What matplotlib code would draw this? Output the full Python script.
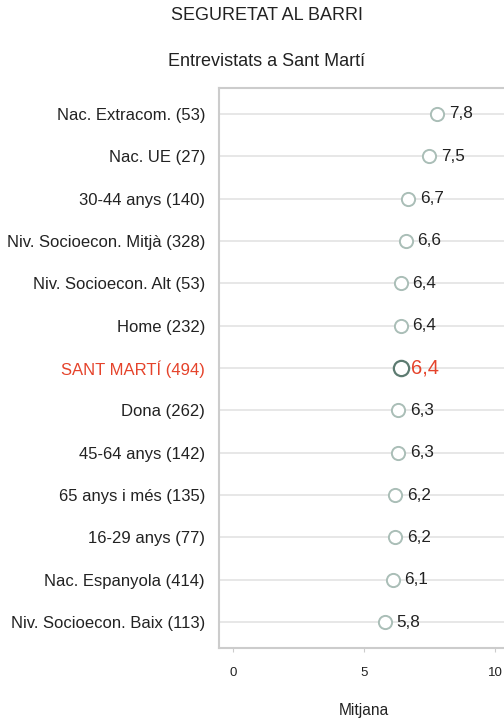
import matplotlib
matplotlib.use("Agg")
import matplotlib.pyplot as plt

plt.rcParams['font.family'] = ['Liberation Sans', 'DejaVu Sans']

categories = ["Nac. Extracom. (53)", "Nac. UE (27)", "30-44 anys (140)",
              "Niv. Socioecon. Mitjà (328)", "Niv. Socioecon. Alt (53)",
              "Home (232)", "SANT MARTÍ (494)", "Dona (262)", "45-64 anys (142)",
              "65 anys i més (135)", "16-29 anys (77)", "Nac. Espanyola (414)",
              "Niv. Socioecon. Baix (113)"]
values = [7.8, 7.5, 6.7, 6.6, 6.4, 6.4, 6.4, 6.3, 6.3, 6.2, 6.2, 6.1, 5.8]
labels = ["7,8", "7,5", "6,7", "6,6", "6,4", "6,4", "6,4", "6,3", "6,3", "6,2", "6,2", "6,1", "5,8"]
highlight = "SANT MARTÍ (494)"
xticks = [0, 5, 10]

W, H = 504, 720
fig = plt.figure(figsize=(W / 100, H / 100), dpi=100)
# axes box in pixels: left 219, top 88, bottom 648, right past the edge
ax = fig.add_axes([219 / W, 1 - 648 / H, (508 - 219) / W, (648 - 88) / H])

red = "#e5432b"
pts = "#aabeb7"
dark = "#5d7b71"
spine = "#cccccc"

ys = list(range(len(categories)))
for y in ys:
    ax.axhline(y, color="#e3e3e3", lw=1.2, zorder=1)

for y, cat, v, lab in zip(ys, categories, values, labels):
    if cat == highlight:
        ax.plot(v, y, "o", ms=11, mfc="white", mec=dark, mew=1.6, zorder=3)
        ax.annotate(lab, (v, y), xytext=(7.5, 0), textcoords="offset points",
                    va="center", ha="left", fontsize=14.5, color=red)
    else:
        ax.plot(v, y, "o", ms=9.5, mfc="white", mec=pts, mew=1.4, zorder=3)
        ax.annotate(lab, (v, y), xytext=(8.5, 0), textcoords="offset points",
                    va="center", ha="left", fontsize=12.3, color="#222222")

ax.set_xlim(-0.53, 10.5)
ax.set_ylim(len(categories) - 1 + 0.614, -0.614)
ax.set_yticks(ys)
ax.set_yticklabels(categories, fontsize=12)
for t in ax.get_yticklabels():
    t.set_color(red if t.get_text() == highlight else "#222222")
ax.tick_params(axis="y", length=0, pad=10)
ax.set_xticks(xticks)
ax.set_xticklabels([str(x) for x in xticks], fontsize=9.5)
ax.tick_params(axis="x", length=3, color=spine, pad=11, labelcolor="#222222")

for s in ["left", "top", "bottom"]:
    ax.spines[s].set_color(spine)
    ax.spines[s].set_linewidth(1.5)
ax.spines["right"].set_visible(False)

fig.text(267 / W, 1 - 16 / H, "SEGURETAT AL BARRI", ha="center", va="center",
         fontsize=13, color="#222222")
fig.text(267 / W, 1 - 61 / H, "Entrevistats a Sant Martí", ha="center", va="center",
         fontsize=13, color="#222222")
fig.text(364 / W, 1 - 710 / H, "Mitjana", ha="center", va="center",
         fontsize=11.2, color="#222222")

fig.savefig("out.png", dpi=100)
